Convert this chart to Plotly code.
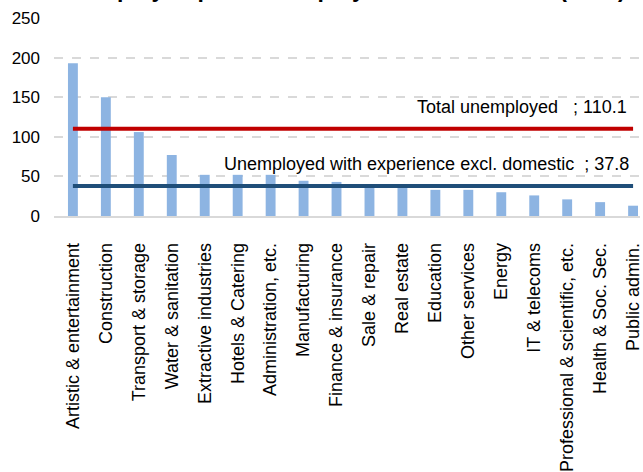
import plotly.graph_objects as go

categories = [
    "Artistic & entertainment", "Construction", "Transport & storage",
    "Water & sanitation", "Extractive industries", "Hotels & Catering",
    "Administration, etc.", "Manufacturing", "Finance & insurance",
    "Sale & repair", "Real estate", "Education", "Other services",
    "Energy", "IT & telecoms", "Professional & scientific, etc.",
    "Health & Soc. Sec.", "Public admin.",
]
values = [193, 150, 106, 77, 52, 52, 52, 44.5, 43, 38, 37, 33, 33, 30, 26, 21, 17.5, 13]
total_unemployed = 110.1
unemployed_exp = 37.8
total_label = "Total unemployed   ; 110.1"
exp_label = "Unemployed with experience excl. domestic  ; 37.8"
title_text = "Unemployed per 100 employed in each sector (2020)"
y_ticks = [0, 50, 100, 150, 200, 250]

FONT = "Liberation Sans, Arial, Helvetica, sans-serif"

fig = go.Figure()
fig.add_trace(go.Bar(
    x=categories, y=values, marker_color="#8DB4E2", width=0.3,
    marker_line_width=0, showlegend=False,
))
fig.add_trace(go.Scatter(
    x=categories, y=[total_unemployed] * len(categories), mode="lines",
    line=dict(color="#C00000", width=4), showlegend=False,
))
fig.add_trace(go.Scatter(
    x=categories, y=[unemployed_exp] * len(categories), mode="lines",
    line=dict(color="#1F4E79", width=4), showlegend=False,
))

fig.add_annotation(x=categories[-1], y=total_unemployed, text=total_label,
                   showarrow=False, xanchor="right", yanchor="middle",
                   xshift=-4, yshift=22, font=dict(family=FONT, size=18, color="#000000"))
fig.add_annotation(x=categories[-1], y=unemployed_exp, text=exp_label,
                   showarrow=False, xanchor="right", yanchor="middle",
                   xshift=-2, yshift=22, font=dict(family=FONT, size=18, color="#000000"))
fig.add_annotation(xref="paper", yref="paper", x=(341 - 54) / (643 - 54), y=1.078,
                   text="<b>" + title_text + "</b>", showarrow=False,
                   xanchor="center", yanchor="bottom", borderpad=0,
                   font=dict(family=FONT, size=23, color="#000000"))

fig.update_layout(
    width=643, height=472,
    margin=dict(l=54, r=0, t=18, b=254),
    plot_bgcolor="white", paper_bgcolor="white",
    font=dict(family=FONT, color="#000000"),
    bargap=0.7,
)
fig.update_xaxes(
    range=[-0.574, 17.21], tickangle=-90, tickfont=dict(size=18),
    showline=True, linecolor="#D9D9D9", linewidth=1.5,
    showgrid=False, ticks="", ticklabelstandoff=18,
    ticklabeloverflow="allow",
)
fig.update_yaxes(
    range=[0, 250], tickvals=y_ticks, tickfont=dict(size=17),
    showgrid=True, gridcolor="#D9D9D9", gridwidth=1.5, griddash="dash",
    zeroline=False, showline=False, ticks="", ticklabelstandoff=13,
)

fig.write_html(
    "out.html",
    config={"displayModeBar": False},
    post_script="document.body.style.margin='0px';document.body.style.overflow='hidden';",
)
